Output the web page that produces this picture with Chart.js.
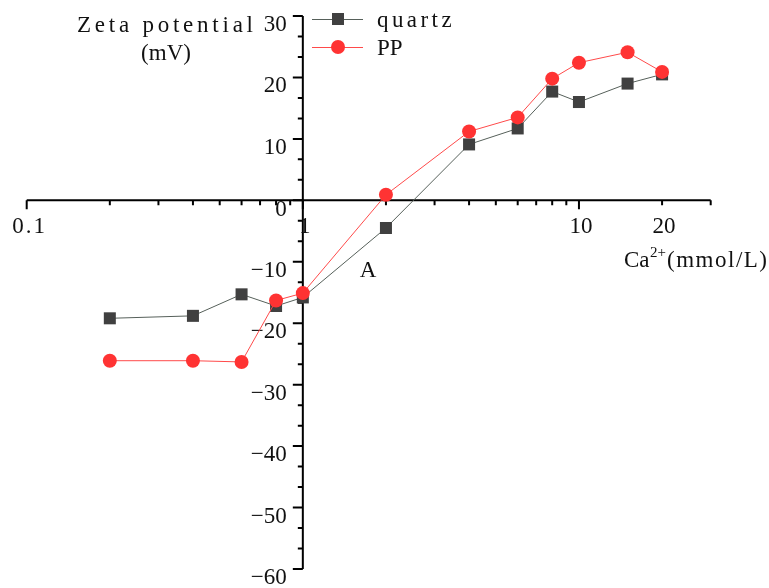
<!DOCTYPE html>
<html lang="en">
<head>
  <meta charset="UTF-8">
  <title>Zeta potential vs Ca2+</title>
  <style>
    html, body { margin: 0; padding: 0; background: #fff; }
    .chart-box { position: relative; width: 769px; height: 588px; }
  </style>
</head>
<body>
  <div class="chart-box"><canvas id="zetaChart"></canvas></div>

  <script src="https://cdn.jsdelivr.net/npm/chart.js@4.4.0/dist/chart.umd.min.js"></script>
  <script>
    // values
    const concentration = [0.2, 0.4, 0.6, 0.8, 1, 2, 4, 6, 8, 10, 15, 20];
    const quartzZeta = [-19.2, -18.8, -15.3, -17.2, -15.8, -4.5, 9.1, 11.7, 17.7, 16.0, 19.0, 20.5];
    const ppZeta = [-26.1, -26.1, -26.3, -16.3, -15.1, 0.9, 11.2, 13.5, 19.8, 22.4, 24.1, 20.9];
    const xTickLabels = [0.1, 1, 10, 20];
    const yTickLabels = [-60, -50, -40, -30, -20, -10, 0, 10, 20, 30];

    const FONT = '"Liberation Serif", "DejaVu Serif", serif';
    const INK = '#111';

    // draw text stretched to a given width (the original uses a monospaced CJK font)
    function spacedText(ctx, text, left, baseline, width) {
      ctx.letterSpacing = '0px';
      const natural = ctx.measureText(text).width;
      let gap = text.length > 1 ? (width - natural) / (text.length - 1) : 0;
      if (gap < 0) gap = 0;
      ctx.letterSpacing = gap + 'px';
      ctx.textAlign = 'left';
      ctx.fillText(text, left, baseline);
      ctx.letterSpacing = '0px';
    }

    function fmtTick(v) {
      return v < 0 ? '\u2212' + Math.abs(v) : String(v);
    }

    // axes crossing at x = 1, y = 0 (Origin style)
    const crossAxes = {
      id: 'crossAxes',
      beforeDatasetsDraw(chart) {
        const { ctx, scales: { x, y } } = chart;
        const x0 = x.getPixelForValue(1);
        const y0 = y.getPixelForValue(0);
        ctx.save();
        ctx.strokeStyle = '#000';
        ctx.lineWidth = 2;
        ctx.beginPath();
        ctx.moveTo(x.getPixelForValue(x.min), y0);
        ctx.lineTo(x.getPixelForValue(x.max), y0);
        ctx.moveTo(x0, y.getPixelForValue(y.min));
        ctx.lineTo(x0, y.getPixelForValue(y.max));
        ctx.stroke();

        // x ticks (log) hanging below the axis
        ctx.beginPath();
        [0.1, 1, 10].forEach(dec => {
          for (let k = 1; k <= 9; k++) {
            const v = +(k * dec).toPrecision(3);
            if (v > x.max) break;
            const px = x.getPixelForValue(v);
            const len = k === 1 ? 9 : 5;
            ctx.moveTo(px, y0);
            ctx.lineTo(px, y0 + len);
          }
        });
        // y ticks pointing left, 2 minor ticks per major
        for (let i = 0; i <= 27; i++) {
          const v = y.min + i * 10 / 3;
          const py = y.getPixelForValue(v);
          const len = i % 3 === 0 ? 10 : 5;
          ctx.moveTo(x0 - len, py);
          ctx.lineTo(x0, py);
        }
        ctx.stroke();

        ctx.fillStyle = INK;
        ctx.font = '23px ' + FONT;
        ctx.textAlign = 'right';
        yTickLabels.forEach(v => {
          const py = y.getPixelForValue(v);
          ctx.fillText(fmtTick(v), x0 - 16, py + (v === 0 ? 16 : 15));
        });
        ctx.textAlign = 'center';
        xTickLabels.forEach(v => {
          const px = x.getPixelForValue(v);
          if (v === 0.1) {
            ctx.letterSpacing = '2px';
            ctx.fillText(String(v), px + 3, 233);
            ctx.letterSpacing = '0px';
          } else {
            ctx.fillText(String(v), px + 2, 233);
          }
        });
        ctx.restore();
      },
      afterDraw(chart) {
        const { ctx } = chart;
        ctx.save();
        ctx.fillStyle = INK;
        ctx.font = '23px ' + FONT;
        ctx.textBaseline = 'alphabetic';
        spacedText(ctx, 'Zeta potential', 77, 32, 176);
        ctx.textAlign = 'center';
        ctx.fillText('(mV)', 166, 60);
        ctx.fillText('A', 368, 277);

        // Ca2+(mmol/L)
        ctx.textAlign = 'left';
        ctx.fillText('Ca', 624, 267);
        ctx.font = '15px ' + FONT;
        ctx.fillText('2+', 650, 257);
        ctx.font = '23px ' + FONT;
        spacedText(ctx, '(mmol/L)', 667, 267, 100);

        // legend
        const rows = [{ y: 19, base: 27 }, { y: 47, base: 55 }];
        chart.data.datasets.forEach((ds, i) => {
          const r = rows[i];
          ctx.strokeStyle = ds.borderColor;
          ctx.lineWidth = 1;
          ctx.beginPath();
          ctx.moveTo(312, r.y + 0.5);
          ctx.lineTo(363, r.y + 0.5);
          ctx.stroke();
          ctx.fillStyle = ds.pointBackgroundColor;
          ctx.strokeStyle = ds.pointBorderColor;
          Chart.helpers.drawPoint(ctx, {
            pointStyle: ds.pointStyle, radius: ds.pointRadius, rotation: 0, borderWidth: 0
          }, 338, r.y);
          ctx.fillStyle = INK;
          ctx.font = '23px ' + FONT;
          spacedText(ctx, ds.label, 377, r.base, ds.label.length * 12.6 - 1);
        });
        ctx.restore();
      }
    };

    new Chart(document.getElementById('zetaChart'), {
      type: 'line',
      data: {
        datasets: [
          {
            label: 'quartz',
            data: concentration.map((c, i) => ({ x: c, y: quartzZeta[i] })),
            borderColor: '#56605a',
            borderWidth: 1,
            pointStyle: 'rect',
            pointRadius: 8.5,
            pointHoverRadius: 8.5,
            pointBackgroundColor: '#404040',
            pointBorderColor: '#404040',
            pointBorderWidth: 0,
            tension: 0,
            clip: false,
            order: 1
          },
          {
            label: 'PP',
            data: concentration.map((c, i) => ({ x: c, y: ppZeta[i] })),
            borderColor: '#ff4a4a',
            borderWidth: 1,
            pointStyle: 'circle',
            pointRadius: 7,
            pointHoverRadius: 7,
            pointBackgroundColor: '#ff3333',
            pointBorderColor: '#ff3333',
            pointBorderWidth: 0,
            tension: 0,
            clip: false,
            order: 0
          }
        ]
      },
      options: {
        responsive: true,
        maintainAspectRatio: false,
        animation: false,
        events: [],
        layout: { padding: { left: 26.7, right: 58.3, top: 16, bottom: 19 } },
        scales: {
          x: { type: 'logarithmic', min: 0.1, max: 30, display: false },
          y: { type: 'linear', min: -60, max: 30, display: false }
        },
        plugins: {
          legend: { display: false },
          tooltip: { enabled: false }
        }
      },
      plugins: [crossAxes]
    });
  </script>
</body>
</html>
